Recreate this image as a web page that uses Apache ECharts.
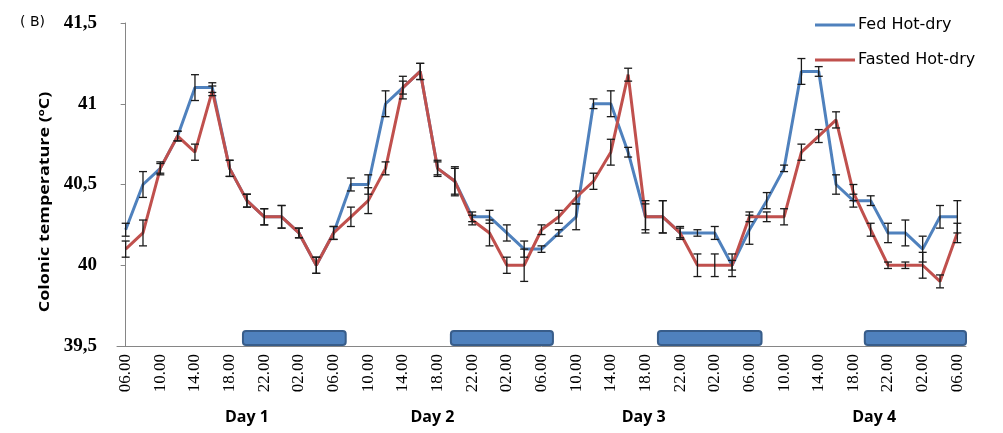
<!DOCTYPE html>
<html>
<head>
<meta charset="utf-8">
<script src="https://cdn.jsdelivr.net/npm/echarts@6/dist/echarts.min.js"></script>
<style>
  html, body { margin: 0; padding: 0; background: #fff; }
  #chart { width: 1003px; height: 433px; }
</style>
</head>
<body>
<div id="chart"></div>
<script>
// time of day, one sample every 2 h, day 1 06.00 to day 5 06.00
const hours = [
  '06.00','08.00','10.00','12.00','14.00','16.00','18.00','20.00','22.00','00.00','02.00','04.00',
  '06.00','08.00','10.00','12.00','14.00','16.00','18.00','20.00','22.00','00.00','02.00','04.00',
  '06.00','08.00','10.00','12.00','14.00','16.00','18.00','20.00','22.00','00.00','02.00','04.00',
  '06.00','08.00','10.00','12.00','14.00','16.00','18.00','20.00','22.00','00.00','02.00','04.00',
  '06.00'
];

const fed = [40.22, 40.5, 40.6, 40.8, 41.1, 41.1, 40.6, 40.4, 40.3, 40.3, 40.2, 40.0,
  40.2, 40.5, 40.5, 41.0, 41.1, 41.2, 40.6, 40.52, 40.3, 40.3, 40.2, 40.1,
  40.1, 40.2, 40.3, 41.0, 41.0, 40.7, 40.3, 40.3, 40.2, 40.2, 40.2, 40.0,
  40.22, 40.4, 40.6, 41.2, 41.2, 40.5, 40.4, 40.4, 40.2, 40.2, 40.1, 40.3,
  40.3];
const fedErr = [0.04, 0.08, 0.04, 0.03, 0.08, 0.03, 0.05, 0.04, 0.05, 0.07, 0.03, 0.05,
  0.04, 0.04, 0.06, 0.08, 0.07, 0.05, 0.05, 0.08, 0.03, 0.04, 0.05, 0.05,
  0.02, 0.02, 0.08, 0.03, 0.08, 0.03, 0.1, 0.1, 0.04, 0.02, 0.04, 0.07,
  0.09, 0.05, 0.02, 0.08, 0.03, 0.06, 0.04, 0.03, 0.06, 0.08, 0.08, 0.07,
  0.1];

const fasted = [40.1, 40.2, 40.6, 40.8, 40.7, 41.08, 40.6, 40.4, 40.3, 40.3, 40.2, 40.0,
  40.2, 40.3, 40.4, 40.6, 41.1, 41.2, 40.6, 40.52, 40.28, 40.2, 40.0, 40.0,
  40.22, 40.3, 40.42, 40.52, 40.7, 41.18, 40.3, 40.3, 40.2, 40.0, 40.0, 40.0,
  40.3, 40.3, 40.3, 40.7, 40.8, 40.9, 40.45, 40.22, 40.0, 40.0, 40.0, 39.9,
  40.2];
const fastedErr = [0.05, 0.08, 0.03, 0.03, 0.05, 0.03, 0.05, 0.04, 0.05, 0.07, 0.03, 0.05,
  0.04, 0.06, 0.08, 0.04, 0.04, 0.05, 0.04, 0.09, 0.03, 0.08, 0.05, 0.1,
  0.03, 0.04, 0.04, 0.05, 0.08, 0.04, 0.08, 0.1, 0.03, 0.07, 0.07, 0.03,
  0.03, 0.03, 0.05, 0.05, 0.04, 0.05, 0.05, 0.04, 0.02, 0.02, 0.08, 0.04,
  0.06];

// dark periods (in sample index units)
const darkStart = [6.77, 18.77, 30.72, 42.66];
const darkEnd = [12.7, 24.66, 36.7, 48.5];

const dayNames = ['Day 1', 'Day 2', 'Day 3', 'Day 4'];
const dayPos = [7, 17.7, 29.9, 43.2];

const blue = '#4F81BD';
const red = '#C0504D';

function errData(vals, errs) {
  return vals.map((v, i) => [i, v - errs[i], v + errs[i]]);
}

function renderErr(params, api) {
  const lo = api.coord([api.value(0), api.value(1)]);
  const hi = api.coord([api.value(0), api.value(2)]);
  const w = 4;
  const st = { stroke: '#1a1a1a', lineWidth: 1.3 };
  return {
    type: 'group',
    children: [
      { type: 'line', shape: { x1: lo[0], y1: lo[1], x2: hi[0], y2: hi[1] }, style: st },
      { type: 'line', shape: { x1: lo[0] - w, y1: lo[1], x2: lo[0] + w, y2: lo[1] }, style: st },
      { type: 'line', shape: { x1: hi[0] - w, y1: hi[1], x2: hi[0] + w, y2: hi[1] }, style: st }
    ]
  };
}

const chart = echarts.init(document.getElementById('chart'));
chart.setOption({
  animation: false,
  grid: { left: 117, right: 37, top: 23, bottom: 87 },
  legend: {
    orient: 'vertical',
    left: 810,
    top: 12,
    itemGap: 19,
    itemWidth: 40,
    itemHeight: 3,
    icon: 'rect',
    data: ['Fed Hot-dry', 'Fasted Hot-dry'],
    textStyle: { fontFamily: 'DejaVu Sans', fontSize: 16, color: '#000', padding: [0, 0, 0, -2] }
  },
  xAxis: [{
    type: 'category',
    data: hours,
    boundaryGap: true,
    axisLine: { lineStyle: { color: '#868686', width: 1 } },
    axisTick: { interval: 0, length: 5, lineStyle: { color: '#868686' } },
    axisLabel: {
      interval: 1,
      rotate: 90,
      margin: 8,
      fontFamily: 'Liberation Serif',
      fontSize: 17,
      color: '#000'
    }
  }, {
    type: 'value',
    min: -0.5,
    max: 48.5,
    show: false
  }],
  yAxis: {
    type: 'value',
    min: 39.5,
    max: 41.5,
    interval: 0.5,
    splitLine: { show: false },
    axisLine: { show: true, lineStyle: { color: '#868686' } },
    axisTick: { show: true, length: 5, lineStyle: { color: '#868686' } },
    axisLabel: {
      margin: 20,
      fontFamily: 'Liberation Serif',
      fontWeight: 'bold',
      fontSize: 19,
      color: '#000',
      formatter: v => String(v).replace('.', ',')
    }
  },
  graphic: [{
    type: 'text',
    x: 45, y: 202,
    rotation: Math.PI / 2,
    scaleX: 1.28,
    style: {
      text: 'Colonic temperature (ºC)',
      fontFamily: 'Open Sans', fontWeight: 'bold', fontSize: 14,
      fill: '#000', align: 'center', verticalAlign: 'middle'
    }
  }, {
    type: 'text',
    x: 20, y: 15,
    style: { text: '( B)', font: '14px "DejaVu Sans"', fill: '#000' }
  }],
  series: [{
    name: 'Fed Hot-dry',
    type: 'line',
    data: fed,
    symbol: 'none',
    lineStyle: { color: blue, width: 3 },
    itemStyle: { color: blue },
    z: 2
  }, {
    name: 'Fasted Hot-dry',
    type: 'line',
    data: fasted,
    symbol: 'none',
    lineStyle: { color: red, width: 3 },
    itemStyle: { color: red },
    z: 3
  }, {
    type: 'custom',
    data: errData(fed, fedErr),
    renderItem: renderErr,
    z: 4
  }, {
    type: 'custom',
    data: errData(fasted, fastedErr),
    renderItem: renderErr,
    z: 4
  }, {
    type: 'custom',
    xAxisIndex: 1,
    data: darkStart.map((s, i) => [s, darkEnd[i]]),
    clip: false,
    renderItem: (params, api) => {
      const a = api.coord([api.value(0), 39.5]);
      const b = api.coord([api.value(1), 39.5]);
      return {
        type: 'rect',
        shape: { x: a[0], y: a[1] - 15, width: b[0] - a[0], height: 14, r: 3 },
        style: { fill: blue, stroke: '#385D8A', lineWidth: 2 }
      };
    },
    z: 5
  }, {
    type: 'custom',
    xAxisIndex: 1,
    data: dayPos.map((p, i) => [p, i]),
    clip: false,
    renderItem: (params, api) => {
      const a = api.coord([api.value(0), 39.5]);
      return {
        type: 'text',
        x: a[0], y: a[1] + 71,
        style: {
          text: dayNames[params.dataIndex],
          font: 'bold 16px "Open Sans"',
          fill: '#000', align: 'center', verticalAlign: 'middle'
        }
      };
    }
  }]
});
</script>
</body>
</html>
